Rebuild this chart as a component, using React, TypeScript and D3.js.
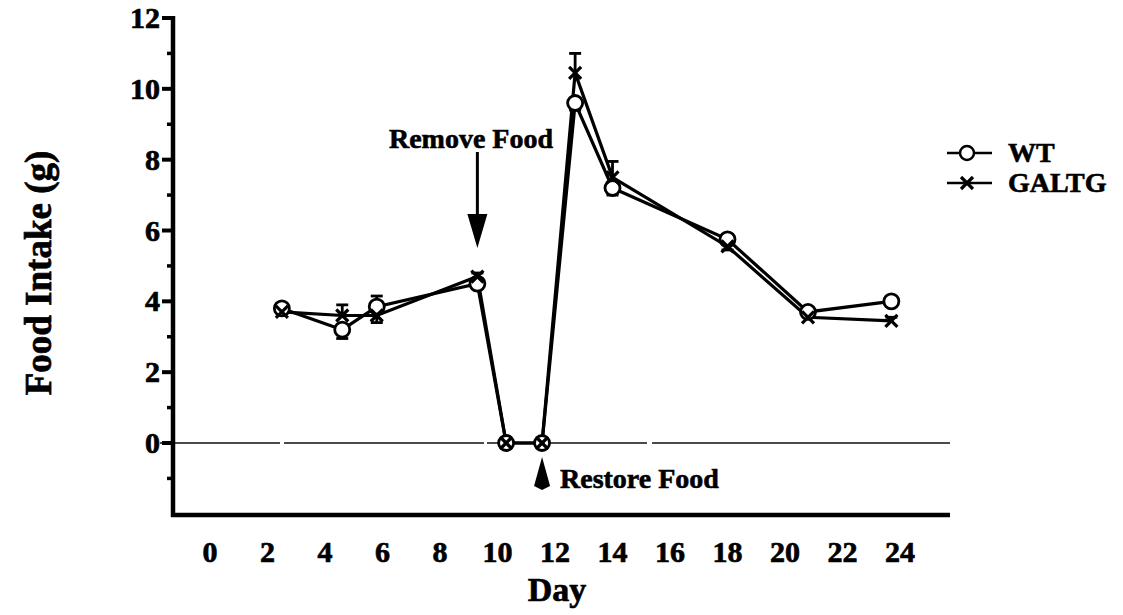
import React from "react";
import * as d3 from "d3";

// Food intake per day (g)
const days: number[] = [2.5, 4.6, 5.8, 9.3, 10.3, 11.55, 12.7, 14.0, 18.0, 20.8, 23.7];
const wtMean: number[] = [3.8, 3.2, 3.85, 4.5, 0, 0, 9.6, 7.2, 5.75, 3.7, 4.0];
const wtErr: number[] = [0.1, -0.25, 0.3, 0.1, 0, 0, -0.2, -0.2, 0.1, 0.1, 0.1];
const galtgMean: number[] = [3.7, 3.6, 3.6, 4.7, 0, 0, 10.45, 7.5, 5.55, 3.55, 3.45];
const galtgErr: number[] = [0.15, 0.3, -0.2, 0.1, 0, 0, 0.55, 0.45, -0.1, 0.1, 0.1];

const xTickLabels: number[] = [0, 2, 4, 6, 8, 10, 12, 14, 16, 18, 20, 22, 24];
const yTickLabels: number[] = [0, 2, 4, 6, 8, 10, 12];
const yMinorTicks: number[] = [-1, 1, 3, 5, 7, 9, 11];

const removeDay = 9.3;
const restoreDay = 11.55;

const seriesNames = ["WT", "GALTG"];

const App: React.FC = () => {
    const width = 1123;
    const height = 615;
    const font = "'Liberation Serif', 'Times New Roman', serif";

    const xScale = d3.scaleLinear().domain([0, 24]).range([210, 900]);
    const yScale = d3.scaleLinear().domain([0, 12]).range([443, 18]);

    const axisX = 173;
    const axisBottom = 515;

    const line = d3.line<[number, number]>()
        .x(d => xScale(d[0]))
        .y(d => yScale(d[1]));

    const wtPts: [number, number][] = days.map((d, i) => [d, wtMean[i]]);
    const gPts: [number, number][] = days.map((d, i) => [d, galtgMean[i]]);

    const errBars = (means: number[], errs: number[], key: string) =>
        days.map((d, i) => {
            if (errs[i] === 0) return null;
            const cx = xScale(d);
            const y0 = yScale(means[i]);
            const y1 = yScale(means[i] + errs[i]);
            return (
                <g key={`${key}-${i}`} stroke="#000" strokeWidth={2.8}>
                    <line x1={cx} x2={cx} y1={y0} y2={y1} />
                    <line x1={cx - 6} x2={cx + 6} y1={y1} y2={y1} />
                </g>
            );
        });

    const cross = (cx: number, cy: number, key: string) => (
        <g key={key} stroke="#000" strokeWidth={3.2}>
            <line x1={cx - 6} y1={cy - 6} x2={cx + 6} y2={cy + 6} />
            <line x1={cx - 6} y1={cy + 6} x2={cx + 6} y2={cy - 6} />
        </g>
    );

    const rx = xScale(removeDay);
    const sx = xScale(restoreDay);

    return (
        <svg width={width} height={height} style={{ position: "absolute", left: 0, top: 0, background: "#fff" }}
            fontFamily={font} fontWeight="bold" stroke="none">
            {/* zero line */}
            <line x1={160} x2={950} y1={yScale(0)} y2={yScale(0)} stroke="#111" strokeWidth={1.3} strokeDasharray="120 4 200 3 160 5 300" />

            {/* axes */}
            <line x1={axisX} x2={axisX} y1={yScale(12) - 2} y2={axisBottom + 2} stroke="#000" strokeWidth={4.5} />
            <line x1={axisX - 2} x2={950} y1={axisBottom} y2={axisBottom} stroke="#000" strokeWidth={4.5} />
            <g fill="#000" stroke="#000" strokeWidth={0.7}>
                {yTickLabels.map(t => (
                    <text key={`yl-${t}`} x={160} y={yScale(t) + 10} textAnchor="end" fontSize={30}>{t}</text>
                ))}
                {xTickLabels.map(t => (
                    <text key={`xt-${t}`} x={xScale(t)} y={562} textAnchor="middle" fontSize={30}>{t}</text>
                ))}
                <text x={557} y={601} textAnchor="middle" fontSize={34}>Day</text>
                <text transform={`translate(51, 273) rotate(-90)`} textAnchor="middle" fontSize={37}>Food Intake (g)</text>
            </g>
            {yTickLabels.map(t => (
                <line key={`yt-${t}`} x1={axisX - 11} x2={axisX} y1={yScale(t)} y2={yScale(t)} stroke="#000" strokeWidth={4} />
            ))}
            {yMinorTicks.map(t => (
                <line key={`ym-${t}`} x1={axisX - 6} x2={axisX} y1={yScale(t)} y2={yScale(t)} stroke="#000" strokeWidth={3.5} />
            ))}

            {/* series lines */}
            <path d={line(wtPts) ?? ""} fill="none" stroke="#000" strokeWidth={3.2} />
            <path d={line(gPts) ?? ""} fill="none" stroke="#000" strokeWidth={3.2} />

            {/* error bars */}
            {errBars(wtMean, wtErr, "we")}
            {errBars(galtgMean, galtgErr, "ge")}

            {/* markers */}
            {wtPts.map((p, i) => (
                <circle key={`wc-${i}`} cx={xScale(p[0])} cy={yScale(p[1])} r={7.5} fill="#fff" stroke="#000" strokeWidth={2.8} />
            ))}
            {gPts.map((p, i) => cross(xScale(p[0]), yScale(p[1]), `gx-${i}`))}

            {/* annotations */}
            <text x={471} y={148} textAnchor="middle" fontSize={28} fill="#000" stroke="#000" strokeWidth={0.6}>Remove Food</text>
            <line x1={rx} x2={rx} y1={152} y2={218} stroke="#000" strokeWidth={3} />
            <path d={`M${rx - 10},214 L${rx + 10},214 L${rx},248 Z`} fill="#000" />

            <path d={`M${sx},457 L${sx + 8},486 L${sx},490 L${sx - 8},486 Z`} fill="#000" />
            <text x={560} y={488} fontSize={28} fill="#000" stroke="#000" strokeWidth={0.6}>Restore Food</text>

            {/* legend */}
            {seriesNames.map((name, i) => {
                const ly = 153 + i * 30;
                return (
                    <g key={name}>
                        <line x1={947} x2={992} y1={ly} y2={ly} stroke="#000" strokeWidth={2.5} />
                        {i === 0
                            ? <circle cx={967} cy={ly} r={7} fill="#fff" stroke="#000" strokeWidth={2.5} />
                            : cross(967, ly, "lg-x")}
                        <text x={1008} y={ly + 9} fontSize={28} fill="#000" stroke="#000" strokeWidth={0.6}>{name}</text>
                    </g>
                );
            })}
        </svg>
    );
};

export default App;
